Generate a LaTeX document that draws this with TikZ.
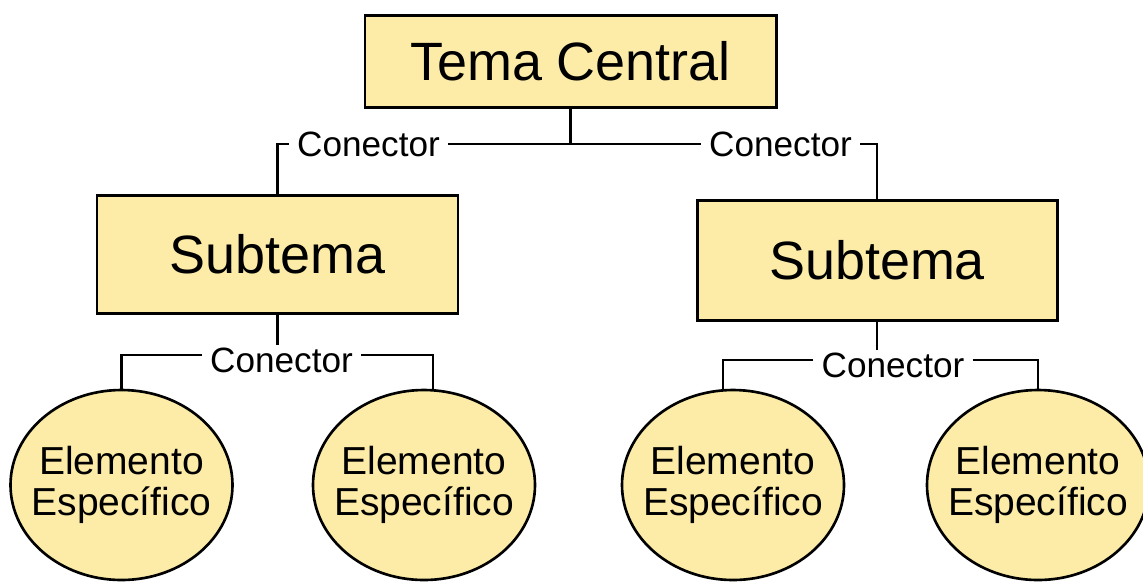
\documentclass[tikz,border=0pt]{standalone}
\usepackage{fontspec}
\setmainfont{Liberation Sans}
\usetikzlibrary{shapes.geometric}
\definecolor{amarelo}{RGB}{252,236,168}

\tikzset{
  tema/.style={draw,fill=amarelo,line width=1.7pt,inner sep=0pt,
    font=\fontsize{30.7}{32}\selectfont},
  elemento/.style={ellipse,draw,fill=amarelo,line width=1.5pt,
    inner xsep=-.23cm,inner ysep=0pt,
    minimum width=4.4cm,minimum height=3.8cm,align=center,
    font=\fontsize{22.2}{23.3}\selectfont},
  conector/.style={fill=white,inner xsep=4.5pt,inner ysep=1pt,
    font=\fontsize{20}{22}\selectfont},
  liga/.style={line width=1.4pt}
}

\begin{document}
\begin{tikzpicture}
      \useasboundingbox (0,0) rectangle (22.86,-11.62);

      \node[tema,minimum width=8.22cm,minimum height=1.84cm] (central) at (11.41,-1.22) {Tema Central};
      \node[tema,minimum width=7.22cm,minimum height=2.36cm] (subA) at (5.55,-5.08) {Subtema};
      \node[tema,minimum width=7.2cm,minimum height=2.4cm] (subB) at (17.54,-5.2) {Subtema};

      \node[elemento] (elA1) at (2.43,-9.7) {Elemento\\Específico};
      \node[elemento] (elA2) at (8.48,-9.7) {Elemento\\Específico};
      \node[elemento] (elB1) at (14.66,-9.7) {Elemento\\Específico};
      \node[elemento] (elB2) at (20.76,-9.7) {Elemento\\Específico};

      \node[conector] (conT1) at (7.37,-2.88) {Conector};
      \node[conector] (conT2) at (15.61,-2.88) {Conector};
      \node[conector] (conA) at (5.63,-7.2) {Conector};
      \node[conector] (conB) at (17.86,-7.3) {Conector};

      % tema central -> subtemas
      \draw[liga] (central.south) -- (central.south |- conT1.east);
      \draw[liga] (conT1.east) -- (conT2.west);
      \draw[liga] (conT1.west) -| (subA.north);
      \draw[liga] (conT2.east) -| (subB.north);

      % subtemas -> elementos
      \draw[liga] (subA.south) -- (subA.south |- conA.north);
      \draw[liga] ([yshift=2.8pt]conA.west) -| (elA1.north);
      \draw[liga] ([yshift=2.8pt]conA.east) -| ([xshift=.18cm]elA2.north);

      \draw[liga] (subB.south) -- (subB.south |- conB.north);
      \draw[liga] ([yshift=2.8pt]conB.west) -| ([xshift=-.2cm]elB1.north);
      \draw[liga] ([yshift=2.8pt]conB.east) -| (elB2.north);
\end{tikzpicture}
\end{document}
